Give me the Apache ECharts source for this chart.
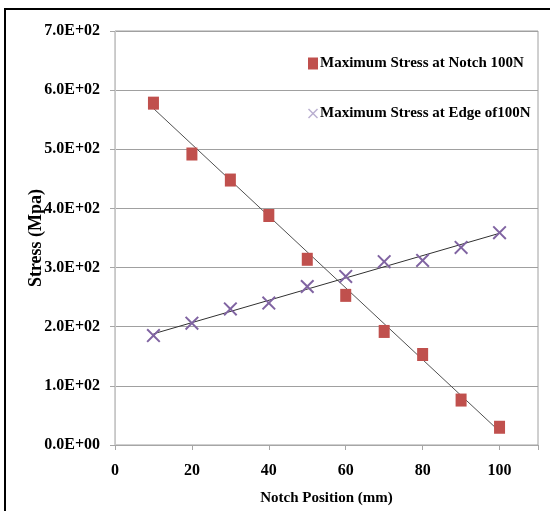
<!DOCTYPE html>
<html>
<head>
<meta charset="utf-8">
<script src="https://cdn.jsdelivr.net/npm/echarts@6/dist/echarts.min.js"></script>
<style>
  html, body { margin: 0; padding: 0; background: #fff; }
  #chart { width: 550px; height: 511px; }
</style>
</head>
<body>
<div id="chart"></div>
<script>
// values
var positions = [10, 20, 30, 40, 50, 60, 70, 80, 90, 100]
var notchStress = [578, 492, 448, 388, 314, 253, 192, 153, 76, 30]
var edgeStress = [185, 206, 230, 240, 268, 285, 310, 312, 334, 359]
// linear trend lines, end points
var notchTrend = [[10, 569], [100, 23]]
var edgeTrend = [[10, 188], [100, 358]]

var seriesNames = ['Maximum Stress at Notch 100N', 'Maximum Stress at Edge of100N']

var FONT = '"Liberation Serif", "Times New Roman", serif'
var crossPath = 'path://M0,1L1,0L5,4L9,0L10,1L6,5L10,9L9,10L5,6L1,10L0,9L4,5Z'

function sci(v) {
  // 7.0E+02 style labels
  var s = Number(v).toExponential(1).toUpperCase()
  var parts = s.split('E')
  var sign = parts[1].charAt(0)
  var exp = parts[1].slice(1)
  if (exp.length < 2) exp = '0' + exp
  return parts[0] + 'E' + sign + exp
}

function pairs(xs, ys) {
  return xs.map(function (x, i) { return [x, ys[i]] })
}

var chart = echarts.init(document.getElementById('chart'))
chart.setOption({
  animation: false,
  textStyle: { fontFamily: FONT },
  graphic: [
    {
      type: 'rect',
      shape: { x: 5, y: 9, width: 600, height: 560 },
      style: { fill: 'none', stroke: '#000', lineWidth: 2 },
      silent: true
    }
  ],
  grid: {
    left: 115,
    right: 12,
    top: 31,
    bottom: 64,
    show: true,
    borderColor: '#a0a0a0',
    borderWidth: 1
  },
  legend: {
    orient: 'vertical',
    left: 303,
    top: 51,
    itemGap: 35,
    itemWidth: 10,
    itemHeight: 12,
    data: [
      { name: seriesNames[0], icon: 'rect' },
      { name: seriesNames[1], icon: crossPath, itemStyle: { color: '#b9aed0' } }
    ],
    textStyle: { fontFamily: FONT, fontWeight: 'bold', fontSize: 15, color: '#000', padding: [0, 0, 0, -3] }
  },
  xAxis: {
    type: 'value',
    min: 0,
    max: 110,
    interval: 20,
    name: 'Notch Position (mm)',
    nameLocation: 'middle',
    nameGap: 46,
    nameMoveOverlap: false,
    nameTextStyle: { fontFamily: FONT, fontWeight: 'bold', fontSize: 15, color: '#000' },
    axisLine: { lineStyle: { color: '#a6a6a6' } },
    axisTick: { show: true, length: 5, lineStyle: { color: '#a6a6a6' } },
    axisLabel: {
      fontFamily: FONT, fontWeight: 'bold', fontSize: 16, color: '#000', margin: 18,
      formatter: function (v) { return v > 100 ? '' : String(v) }
    },
    splitLine: { show: false }
  },
  yAxis: {
    type: 'value',
    min: 0,
    max: 700,
    interval: 100,
    name: 'Stress (Mpa)',
    nameLocation: 'middle',
    nameGap: 70,
    nameMoveOverlap: false,
    nameTextStyle: { fontFamily: FONT, fontWeight: 'bold', fontSize: 18, color: '#000' },
    axisLine: { show: true, lineStyle: { color: '#c8c8c8' } },
    axisTick: { show: true, length: 5, lineStyle: { color: '#a6a6a6' } },
    axisLabel: {
      fontFamily: FONT, fontWeight: 'bold', fontSize: 16, color: '#000', margin: 15,
      formatter: sci
    },
    splitLine: { show: true, lineStyle: { color: '#a0a0a0', width: 1 } }
  },
  series: [
    {
      name: 'notch trend',
      type: 'line',
      data: notchTrend,
      showSymbol: false,
      lineStyle: { color: '#505050', width: 1 },
      silent: true,
      z: 1
    },
    {
      name: 'edge trend',
      type: 'line',
      data: edgeTrend,
      showSymbol: false,
      lineStyle: { color: '#303030', width: 1 },
      silent: true,
      z: 1
    },
    {
      name: seriesNames[0],
      type: 'scatter',
      data: pairs(positions, notchStress),
      symbol: 'rect',
      symbolSize: [11, 13],
      itemStyle: { color: '#C0504D', opacity: 1 },
      z: 3
    },
    {
      name: seriesNames[1],
      type: 'scatter',
      data: pairs(positions, edgeStress),
      symbol: crossPath,
      symbolSize: 14,
      itemStyle: { color: '#8064A2', opacity: 1 },
      z: 3
    }
  ]
})
</script>
</body>
</html>
